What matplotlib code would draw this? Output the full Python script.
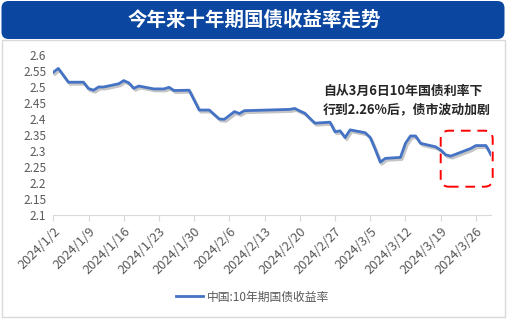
import matplotlib
matplotlib.use('Agg')
import matplotlib.pyplot as plt
import matplotlib.patheffects as pe
from matplotlib.patches import FancyBboxPatch, Rectangle
from matplotlib.lines import Line2D
import pandas as pd

plt.rcParams['font.family'] = ['Noto Sans CJK SC', 'DejaVu Sans']

# ── данные ──────────────────────────────────────────────
dates = [
    '2024-01-02', '2024-01-03', '2024-01-05', '2024-01-08', '2024-01-09',
    '2024-01-10', '2024-01-11', '2024-01-12', '2024-01-15', '2024-01-16',
    '2024-01-17', '2024-01-18', '2024-01-19', '2024-01-22', '2024-01-23',
    '2024-01-24', '2024-01-25', '2024-01-26', '2024-01-29', '2024-01-31',
    '2024-02-01', '2024-02-02', '2024-02-04', '2024-02-05', '2024-02-07',
    '2024-02-08', '2024-02-09', '2024-02-18', '2024-02-19', '2024-02-20',
    '2024-02-21', '2024-02-22', '2024-02-23', '2024-02-26', '2024-02-27',
    '2024-02-28', '2024-02-29', '2024-03-01', '2024-03-04', '2024-03-05',
    '2024-03-06', '2024-03-07', '2024-03-08', '2024-03-11', '2024-03-12',
    '2024-03-13', '2024-03-14', '2024-03-15', '2024-03-18', '2024-03-19',
    '2024-03-20', '2024-03-21', '2024-03-22', '2024-03-25', '2024-03-26',
    '2024-03-27', '2024-03-28', '2024-03-29',
]
yields = [
    2.546, 2.558, 2.515, 2.515, 2.495,
    2.490, 2.500, 2.500, 2.510, 2.520,
    2.513, 2.496, 2.503, 2.494, 2.494,
    2.494, 2.499, 2.489, 2.490, 2.428,
    2.428, 2.428, 2.400, 2.399, 2.423,
    2.417, 2.426, 2.430, 2.433, 2.425,
    2.418, 2.402, 2.387, 2.390, 2.360,
    2.363, 2.342, 2.366, 2.357, 2.342,
    2.305, 2.265, 2.277, 2.280, 2.324,
    2.347, 2.347, 2.324, 2.313, 2.303,
    2.288, 2.284, 2.290, 2.308, 2.317,
    2.317, 2.317, 2.288,
]
tick_dates = pd.date_range('2024-01-02', '2024-03-26', freq='7D')
y_ticks = [2.1, 2.15, 2.2, 2.25, 2.3, 2.35, 2.4, 2.45, 2.5, 2.55, 2.6]

title = '今年来十年期国债收益率走势'
note = '自从3月6日10年国债利率下\n行到2.26%后，债市波动加剧'
series_name = '中国:10年期国债收益率'

LINE_C = '#4472c4'
x = pd.to_datetime(dates)

W, H = 508, 319
fig = plt.figure(figsize=(W / 100, H / 100), dpi=100)
fig.patch.set_facecolor('white')

# рамка и шапка
fig.patches.append(Rectangle((2 / W, 2 / H), 503 / W, 277 / H,
                             transform=fig.transFigure, fill=False,
                             ec='#d9d9d9', lw=1))
fig.patches.append(FancyBboxPatch((1.5 / W, 1 - 39 / H), 503 / W, 38 / H,
                                  boxstyle='round,pad=0,rounding_size=0.014',
                                  mutation_aspect=W / H,
                                  transform=fig.transFigure,
                                  fc='#0b47a0', ec='none'))
fig.text(0.5, 1 - 20 / H, title, color='white', fontsize=14,
         fontweight='bold', ha='center', va='center')

ax = fig.add_axes([53.3 / W, 1 - 215 / H, (491 - 53.3) / W, 160 / H])
ax.plot(x, yields, color=LINE_C, lw=2.0,
        solid_joinstyle='round',
        path_effects=[pe.SimpleLineShadow(offset=(1.2, -1.5),
                                          shadow_color='#7f7f7f', alpha=0.45),
                      pe.Normal()])

ax.set_ylim(2.1, 2.6)
ax.set_yticks(y_ticks)
ax.set_yticklabels([f'{v:g}' for v in y_ticks])
ax.set_xlim(pd.Timestamp('2024-01-02'), pd.Timestamp('2024-03-29'))
ax.set_xticks(tick_dates)
ax.set_xticklabels([f'{d.year}/{d.month}/{d.day}' for d in tick_dates],
                   rotation=45, ha='right', rotation_mode='anchor')

for s in ['top', 'right', 'left']:
    ax.spines[s].set_visible(False)
ax.spines['bottom'].set_color('#d9d9d9')
ax.tick_params(axis='y', length=0, pad=5, labelsize=8.5, labelcolor='#595959')
ax.tick_params(axis='x', length=4, color='#d9d9d9', pad=3,
               labelsize=9.3, labelcolor='#595959')

# аннотация и рамка
fig.text(323 / W, 1 - 100 / H, note, fontsize=9.3, fontweight='bold',
         color='#262626', ha='left', va='center', linespacing=1.45)
fig.patches.append(FancyBboxPatch((440.7 / W, 1 - 186.7 / H), 52 / W, 56 / H,
                                  boxstyle='round,pad=0,rounding_size=0.016',
                                  mutation_aspect=W / H,
                                  transform=fig.transFigure,
                                  fill=False, ec='#ff0000', lw=1.4,
                                  ls=(0, (5, 3.5))))

handle = Line2D([], [], color=LINE_C, lw=2.0)
fig.legend([handle], [series_name], loc='center',
           bbox_to_anchor=(0.497, 1 - 297 / H), frameon=False,
           fontsize=8.5, labelcolor='#595959', handlelength=2.3,
           handletextpad=0.3)

fig.savefig('out.png', dpi=100)
